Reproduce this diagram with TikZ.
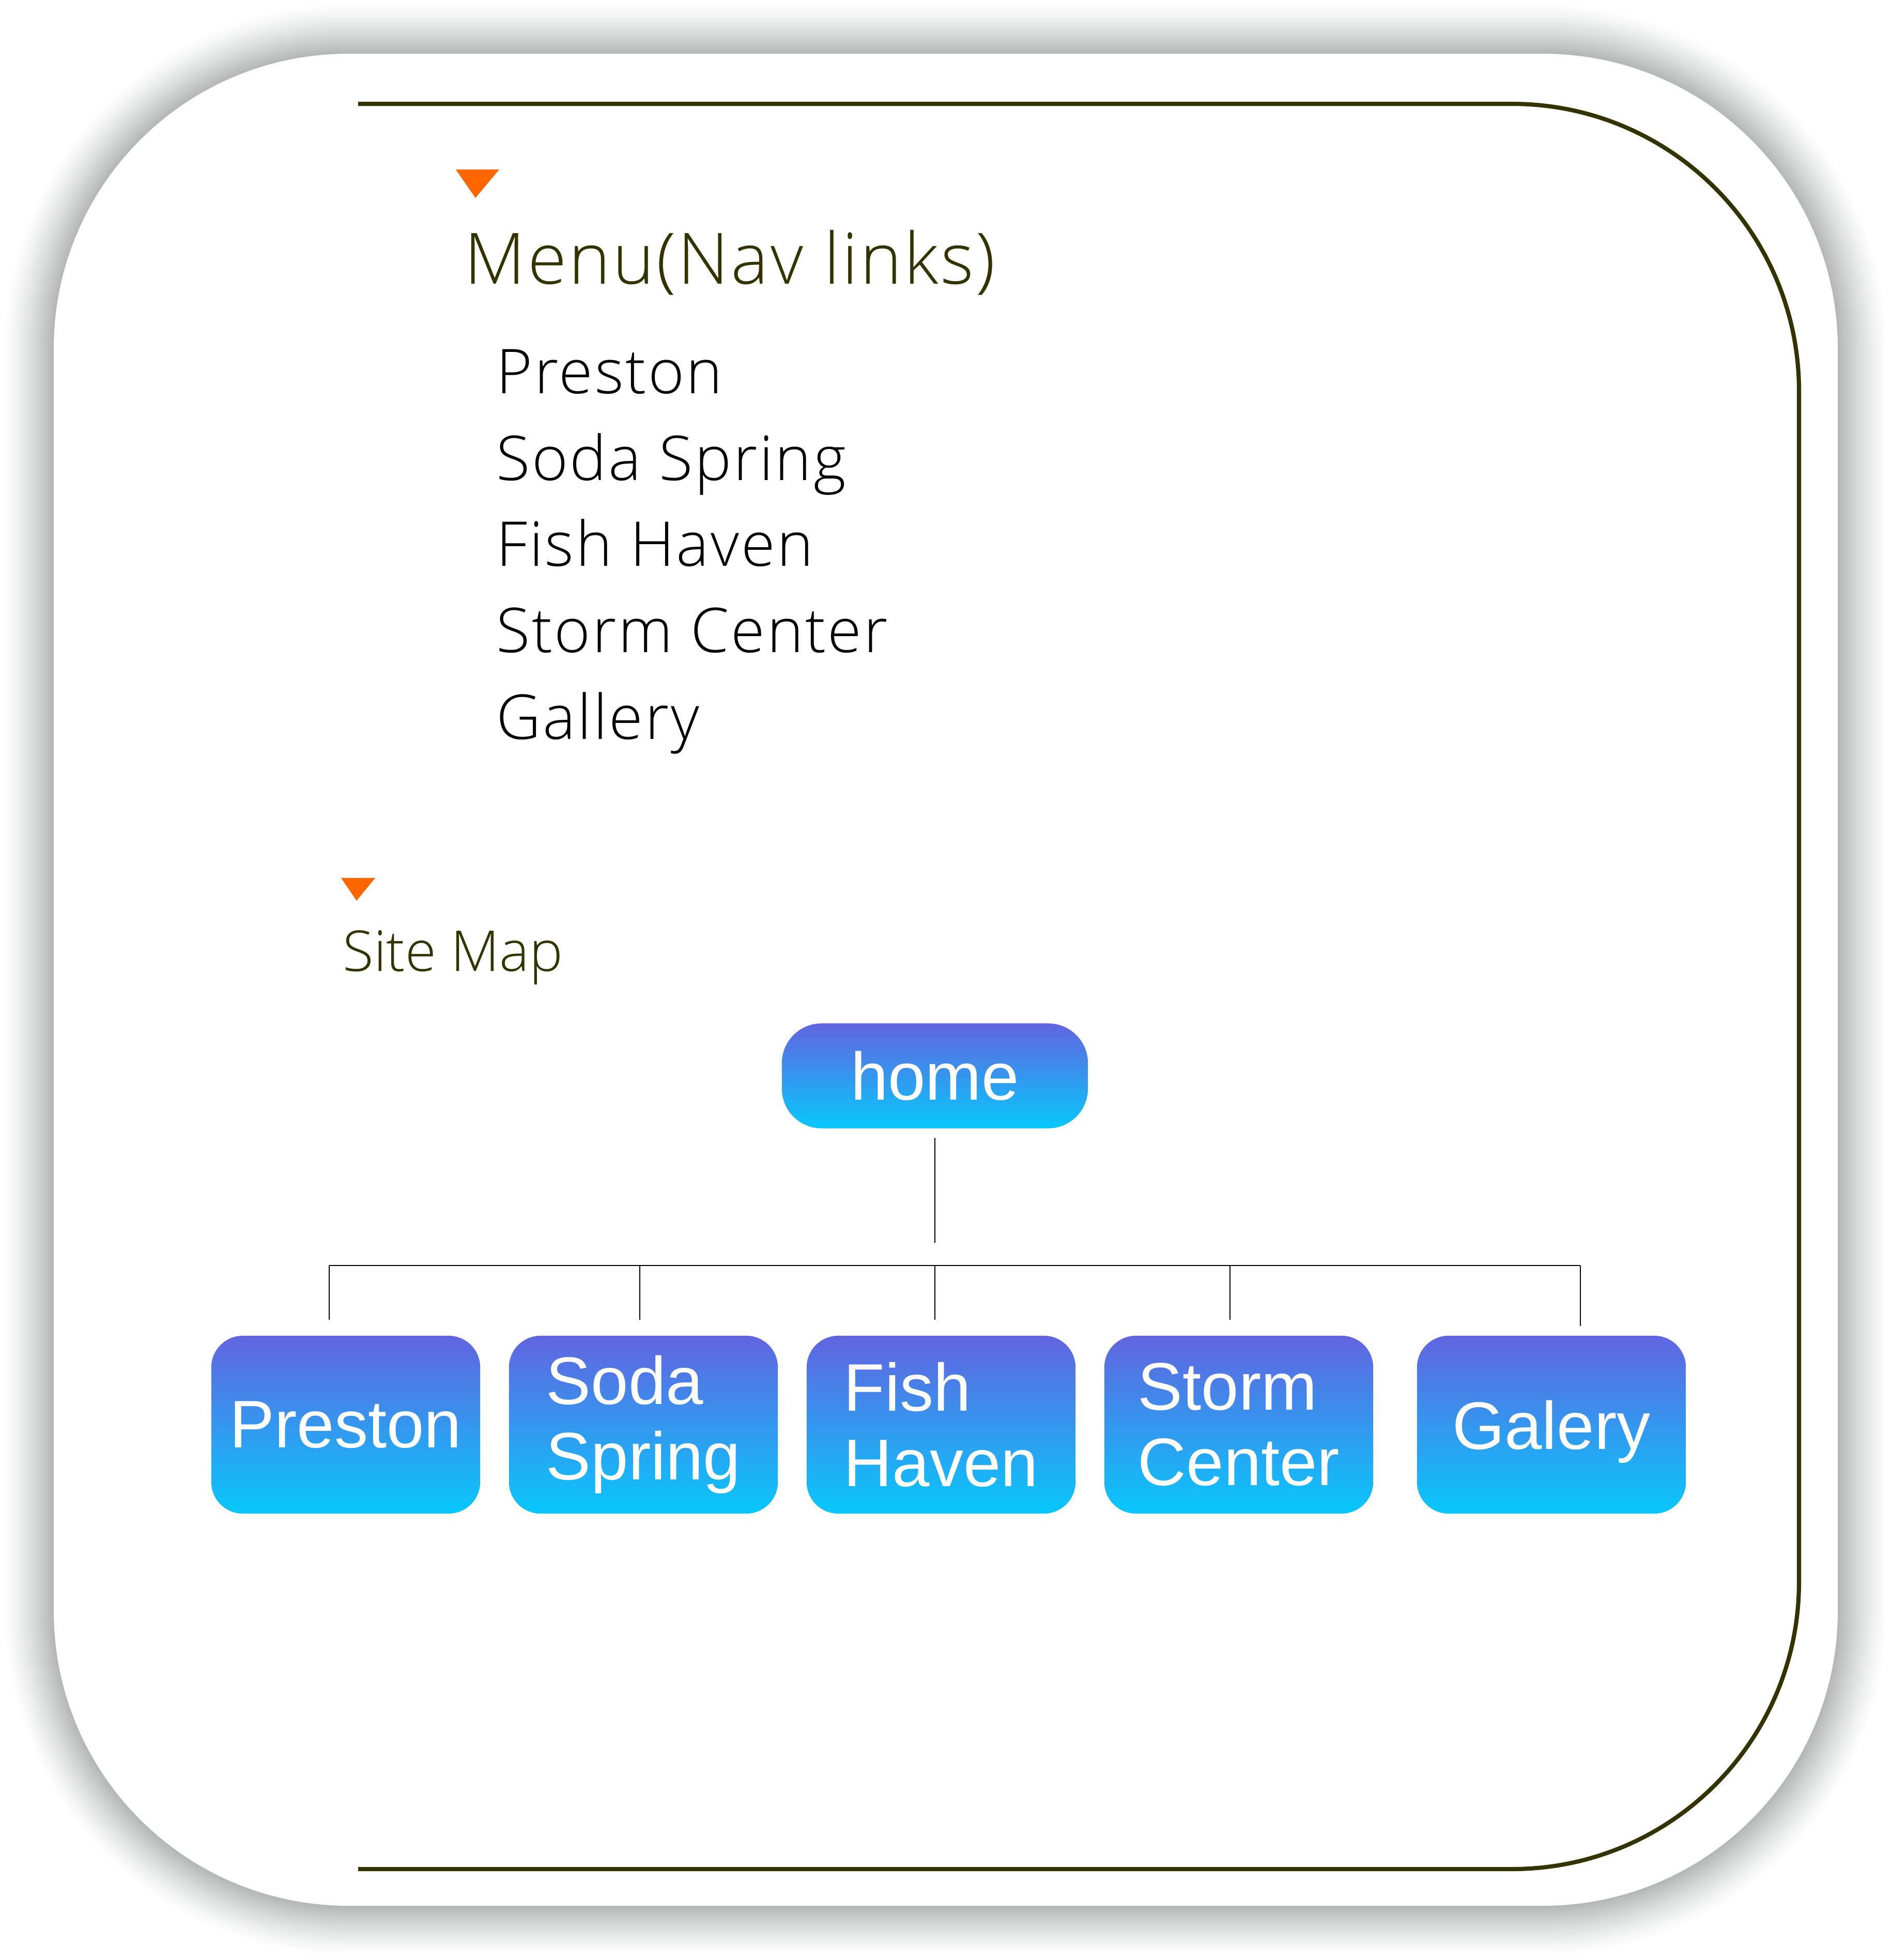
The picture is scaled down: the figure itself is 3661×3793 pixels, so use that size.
\documentclass[tikz,border=0pt]{standalone}
\usepackage{fontspec}
\setmainfont{Liberation Sans}
\newfontfamily\lightfont{Open Sans Light}
\newfontfamily\lightwide[LetterSpace=3]{Open Sans Light}
\usetikzlibrary{positioning, calc}
\definecolor{navtext}{HTML}{333300}
\definecolor{navorange}{HTML}{FF6600}
\definecolor{shadowgray}{RGB}{178,180,180}
\definecolor{boxtop}{HTML}{6264E0}
\definecolor{boxmid}{HTML}{4484E9}
\definecolor{boxbot}{HTML}{08C8FC}
\tikzset{
    page/.style = {x=0.01cm, y=-0.01cm},
    box/.style = {rounded corners=0.61cm, top color=boxtop, middle color=boxmid,
                  bottom color=boxbot, text=white, minimum width=5.2cm,
                  minimum height=3.44cm, inner sep=0pt, align=left,
                  font=\fontsize{37}{41.5}\selectfont},
    homebox/.style = {box, rounded corners=0.77cm, minimum width=5.92cm,
                      minimum height=2.03cm},
    heading/.style = {anchor=base west, text=navtext, inner sep=0pt,
                      font=\lightwide\fontsize{39}{47}\selectfont},
    linktext/.style = {anchor=base west, inner sep=0pt,
                       font=\lightwide\fontsize{34}{47.5}\selectfont},
    marker/.style = {fill=navorange},
    tree/.style = {line width=0.7pt, black},
    outline/.style = {line width=2.3pt, navtext, rounded corners=5.55cm}
}

\begin{document}
\begin{tikzpicture}[page]
    \useasboundingbox (0,0) rectangle (3661,3793);

    % soft shadow round the card
    \foreach \d in {25,...,1} {
        \pgfmathsetmacro\rad{5.7+\d*0.04}
        \pgfmathsetmacro\shd{100*(1-\d/25)^1.3}
        \fill[shadowgray!\shd!white, rounded corners=\rad cm]
            (104-\d*4,104-\d*4) rectangle (3556+\d*4,3688+\d*4);
    }
    \fill[white, rounded corners=5.7cm] (104,104) rectangle (3556,3688);
    \draw[outline] (693,201) -- (3481,201) -- (3481,3617) -- (693,3617);

    % menu
    \fill[marker] (882,328) -- (966,328) -- (920,383) -- cycle;
    \node[heading] (menu) at (898,549) {Menu(Nav links)};
    \node[linktext] (l1) at (960,761) {Preston};
    \node[linktext] (l2) at (960,929) {Soda Spring};
    \node[linktext] (l3) at (960,1095) {Fish Haven};
    \node[linktext] (l4) at (960,1262) {Storm Center};
    \node[linktext] (l5) at (960,1430) {Gallery};

    % site map
    \fill[marker] (660,1699) -- (726,1699) -- (690,1743) -- cycle;
    \node[heading, font=\lightfont\fontsize{31}{37}\selectfont] (sitemap)
        at (663,1879) {Site Map};

    \node[homebox] (home) at (1809,2082) {home};
    \node[box] (preston) at (669,2757) {Preston};
    \node[box] (soda) at (1245,2757) {Soda\\Spring};
    \node[box] (fish) at (1821,2757) {Fish\\Haven};
    \node[box] (storm) at (2397,2757) {Storm\\Center};
    \node[box, text depth=0pt] (galery) at (3002,2757) {Galery};

    \coordinate (stem) at (1809,2405);
    \draw[tree] ([yshift=-0.18cm]home.south) -- (stem);

    \coordinate (j1) at (637,2449);
    \coordinate (j2) at (1238,2449);
    \coordinate (j3) at (1809,2449);
    \coordinate (j4) at (2380,2449);
    \coordinate (j5) at (3058,2449);
    \draw[tree] (j1) -- (j5);
    \foreach \j/\n/\g in {j1/preston/0.3, j2/soda/0.3, j3/fish/0.3,
                          j4/storm/0.3, j5/galery/0.18}
        \draw[tree] (\j) -- ([yshift=\g cm]\j |- \n.north);
\end{tikzpicture}
\end{document}
